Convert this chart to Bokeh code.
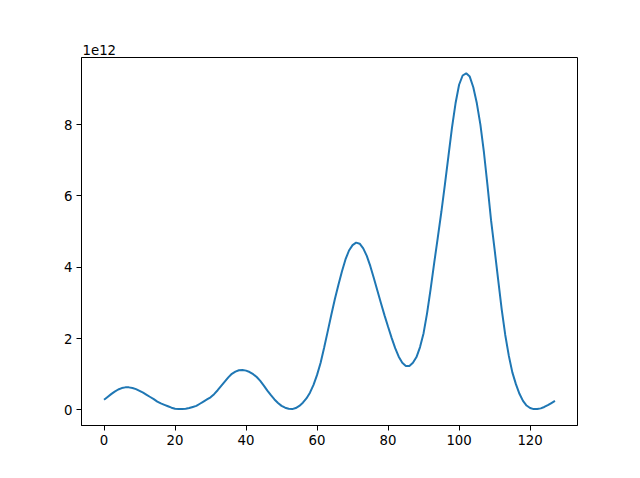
from bokeh.plotting import figure
from bokeh.models import Range1d, FixedTicker
from bokeh.embed import file_html
from bokeh.resources import INLINE

# values in units of 1e12, x = 0..127
yvals = [
    0.28, 0.36, 0.44, 0.51, 0.57, 0.61, 0.63, 0.63, 0.61, 0.58,   # 0-9
    0.53, 0.48, 0.42, 0.36, 0.30, 0.23, 0.18, 0.14, 0.10, 0.06,   # 10-19
    0.03, 0.02, 0.02, 0.03, 0.05, 0.08, 0.11, 0.17, 0.23, 0.29,   # 20-29
    0.35, 0.44, 0.55, 0.67, 0.79, 0.91, 1.01, 1.07, 1.11, 1.12,   # 30-39
    1.10, 1.06, 1.00, 0.92, 0.81, 0.68, 0.54, 0.41, 0.29, 0.19,   # 40-49
    0.11, 0.06, 0.03, 0.02, 0.05, 0.11, 0.20, 0.32, 0.48, 0.70,   # 50-59
    0.98, 1.32, 1.75, 2.20, 2.66, 3.10, 3.50, 3.88, 4.22, 4.47,   # 60-69
    4.62, 4.69, 4.66, 4.53, 4.32, 4.03, 3.69, 3.34, 2.99, 2.65,   # 70-79
    2.33, 2.02, 1.73, 1.49, 1.32, 1.23, 1.23, 1.32, 1.48, 1.76,   # 80-89
    2.15, 2.72, 3.40, 4.13, 4.83, 5.55, 6.32, 7.12, 7.92, 8.60,   # 90-99
    9.12, 9.38, 9.44, 9.35, 9.05, 8.60, 8.00, 7.22, 6.30, 5.32,   # 100-109
    4.50, 3.65, 2.82, 2.10, 1.52, 1.05, 0.72, 0.45, 0.25, 0.12,   # 110-119
    0.05, 0.02, 0.02, 0.04, 0.08, 0.13, 0.19, 0.25,               # 120-127
]
xvals = list(range(len(yvals)))
x_ticks = [0, 20, 40, 60, 80, 100, 120]
y_ticks = [0, 2, 4, 6, 8]
offset_label = "1e12"

FONT = "DejaVu Sans"

p = figure(width=624, height=462, output_backend="svg", toolbar_location=None,
           x_range=Range1d(-6.35, 133.35), y_range=Range1d(-0.44, 9.885),
           min_border_left=81, min_border_right=47, min_border_top=57, min_border_bottom=37)
p.background_fill_color = "white"
p.border_fill_color = "white"
p.outline_line_color = "black"
p.outline_line_width = 1
p.outline_line_alpha = 1
p.grid.visible = False

p.title.text = offset_label
p.title.align = "left"
p.title.text_font = FONT
p.title.text_font_size = "13.3px"
p.title.text_font_style = "normal"
p.title.text_color = "black"
p.title.offset = 1
p.title.standoff = 5

for ax, ticks in ((p.xaxis, x_ticks), (p.yaxis, y_ticks)):
    ax.ticker = FixedTicker(ticks=ticks)
    ax.major_tick_out = 5
    ax.major_tick_in = 0
    ax.minor_tick_line_color = None
    ax.major_label_standoff = 4
    ax.major_label_text_font = FONT
    ax.major_label_text_font_size = "13.3px"
    ax.major_label_text_color = "black"
    ax.axis_line_color = "black"
    ax.major_tick_line_color = "black"

p.line(xvals, yvals, line_color="#1f77b4", line_width=2)

open("out.html", "w").write(file_html(p, INLINE))
